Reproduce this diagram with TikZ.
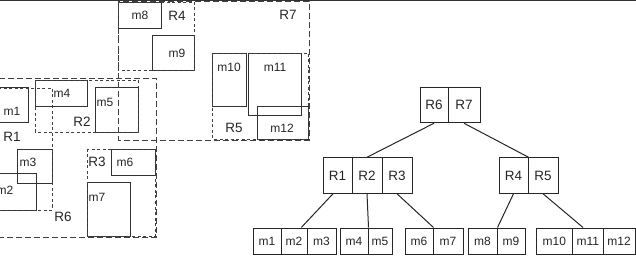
\documentclass[tikz,border=0pt]{standalone}
\usepackage{fontspec}
\setmainfont{Liberation Sans}
\usetikzlibrary{calc}
\begin{document}
\begin{tikzpicture}[x=1pt,y=-1pt,
  box/.style={draw=black!80,line width=0.9pt},
  bigdash/.style={draw=black!75,line width=0.9pt,dash pattern=on 6pt off 3pt},
  smalldash/.style={draw=black!75,line width=0.9pt,dash pattern=on 3pt off 2.5pt},
  mlab/.style={inner sep=0pt,font=\fontsize{12}{14}\selectfont,text=black!85},
  rlab/.style={inner sep=0pt,font=\fontsize{13.5}{15}\selectfont,text=black!85},
  cell/.style={draw=black!85,line width=1pt,inner sep=0pt,minimum height=35.5pt,font=\fontsize{13.5}{15}\selectfont,text=black!85},
  leaf/.style={draw=black!85,line width=1pt,inner sep=0pt,minimum height=26pt,font=\fontsize{12}{14}\selectfont,text=black!85},
  link/.style={draw=black!85,line width=1pt}]
\useasboundingbox (0,0) rectangle (636,256);
\clip (0,0) rectangle (636,256);
\fill[white] (0,0) rectangle (636,256);
\draw[black!80,line width=1.5pt] (0,0.5) -- (636,0.5);

% ---- map: solid rectangles
\draw[box] (-5,87) rectangle (28,122);
\draw[box] (-5,173) rectangle (36,210);
\draw[box] (17,149) rectangle (52,183);
\draw[box] (35,80) rectangle (87,106);
\draw[box] (95,87) rectangle (138,132);
\draw[box] (111,149) rectangle (155,175);
\draw[box] (87,182) rectangle (130,236);
\draw[box] (118,2) rectangle (161,28);
\draw[box] (152,35) rectangle (194,70);
\draw[box] (212,53) rectangle (246,106);
\draw[box] (248,53) rectangle (301,115);
\draw[box] (257,106) rectangle (308,139);

% ---- map: dashed regions
\draw[smalldash] (-5,88) rectangle (52,210);
\draw[smalldash] (35,80) rectangle (138,132);
\draw[smalldash] (87,149) rectangle (155,236);
\draw[smalldash] (118,2) rectangle (194,70);
\draw[smalldash] (212,53) rectangle (308,139);
\draw[bigdash] (-5,78) rectangle (156,237);
\draw[bigdash] (118,1.5) rectangle (309,140);

% ---- map labels
\node[mlab] (lm1) at (12,111) {m1};
\node[mlab] (lm2) at (5,190) {m2};
\node[mlab] (lm3) at (28,162) {m3};
\node[mlab] (lm4) at (62,93) {m4};
\node[mlab] (lm5) at (105,102) {m5};
\node[mlab] (lm6) at (125,162) {m6};
\node[mlab] (lm7) at (97,197) {m7};
\node[mlab] (lm8) at (140,15) {m8};
\node[mlab] (lm9) at (177,53) {m9};
\node[mlab] (lm10) at (229,67) {m10};
\node[mlab] (lm11) at (275,67) {m11};
\node[mlab] (lm12) at (282,128) {m12};
\node[rlab] (lR1) at (12,137) {R1};
\node[rlab] (lR2) at (82,122) {R2};
\node[rlab] (lR3) at (97,162) {R3};
\node[rlab] (lR4) at (177,16) {R4};
\node[rlab] (lR5) at (234,128) {R5};
\node[rlab] (lR6) at (63,217) {R6};
\node[rlab] (lR7) at (288,15) {R7};

% ---- tree
\node[cell,minimum width=28pt] (R6) at (434,105) {R6};
\node[cell,minimum width=32pt] (R7) at (464,105) {R7};
\node[cell,minimum width=29pt] (R1) at (337.5,175.5) {R1};
\node[cell,minimum width=30pt] (R2) at (367,175.5) {R2};
\node[cell,minimum width=30pt] (R3) at (397,175.5) {R3};
\node[cell,minimum width=29pt] (R4) at (513.5,175.5) {R4};
\node[cell,minimum width=30pt] (R5) at (543,175.5) {R5};

\node[leaf,minimum width=28pt] (m1) at (267,241) {m1};
\node[leaf,minimum width=26pt] (m2) at (294,241) {m2};
\node[leaf,minimum width=29pt] (m3) at (321.5,241) {m3};
\node[leaf,minimum width=28pt] (m4) at (354,241) {m4};
\node[leaf,minimum width=24pt] (m5) at (380,241) {m5};
\node[leaf,minimum width=28pt] (m6) at (419,241) {m6};
\node[leaf,minimum width=30pt] (m7) at (448,241) {m7};
\node[leaf,minimum width=29pt] (m8) at (482.5,241) {m8};
\node[leaf,minimum width=28pt] (m9) at (511,241) {m9};
\node[leaf,minimum width=36.5pt] (m10) at (554.25,241) {m10};
\node[leaf,minimum width=30.5pt] (m11) at (587.75,241) {m11};
\node[leaf,minimum width=32pt] (m12) at (619,241) {m12};

\draw[link] (R6.south) -- (R2.north);
\draw[link] (R7.south) -- (R4.north east);
\draw[link] ($(R1.south west)!0.35!(R1.south east)$) -- ($(m2.north west)!0.77!(m2.north east)$);
\draw[link] (R2.south) -- (m4.north east);
\draw[link] (R3.south) -- (m6.north east);
\draw[link] (R4.south) -- (m8.north east);
\draw[link] (R5.south) -- ($(m11.north west)!0.35!(m11.north east)$);
\end{tikzpicture}
\end{document}
